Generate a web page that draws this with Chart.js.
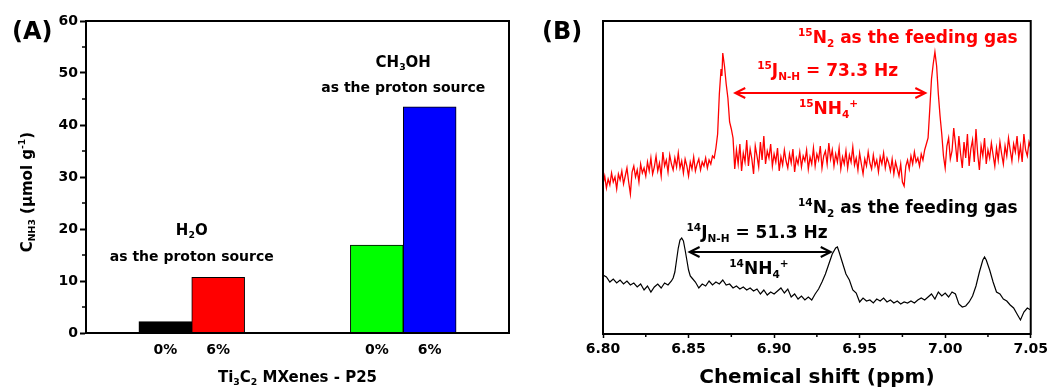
<!DOCTYPE html>
<html>
<head>
<meta charset="utf-8">
<title>NH3 yield and 1H NMR</title>
<script src="https://cdn.jsdelivr.net/npm/chart.js@4"></script>
<style>
  body { margin: 0; background: #fff; }
  #wrap { position: relative; width: 1051px; height: 390px; }
  #boxA { position: absolute; left: 0; top: 0; width: 525px; height: 390px; }
  #boxB { position: absolute; left: 525px; top: 0; width: 526px; height: 390px; }
</style>
</head>
<body>
<div id="wrap">
  <div id="boxA"><canvas id="chartA"></canvas></div>
  <div id="boxB"><canvas id="chartB"></canvas></div>
</div>
<script>
// ---- panel A : NH3 yield (umol/g) ----
const barLabels = ['', '0%', '6%', '', '', '0%', '6%', ''];
const barValues = [null, 2.2, 10.7, null, null, 16.9, 43.5, null];
const barColors = ['#000000', '#000000', '#ff0000', '#000000', '#000000', '#00ff00', '#0000ff', '#000000'];
const yTicksA = [0, 10, 20, 30, 40, 50, 60];

// ---- panel B : 1H NMR, chemical shift (ppm) vs intensity (a.u.) ----
const xTicksB = [6.80, 6.85, 6.90, 6.95, 7.00, 7.05];

// 15N2 feeding gas (red trace)
const shift15 = [6.800, 6.801, 6.802, 6.803, 6.804, 6.805, 6.806, 6.807, 6.808, 6.809,
  6.810, 6.811, 6.812, 6.813, 6.814, 6.815, 6.816, 6.817, 6.818, 6.819,
  6.820, 6.821, 6.822, 6.823, 6.824, 6.825, 6.826, 6.827, 6.828, 6.829,
  6.830, 6.831, 6.832, 6.833, 6.834, 6.835, 6.836, 6.837, 6.838, 6.839,
  6.840, 6.841, 6.842, 6.843, 6.844, 6.845, 6.846, 6.847, 6.848, 6.849,
  6.850, 6.851, 6.852, 6.853, 6.854, 6.855, 6.856, 6.857, 6.858, 6.859,
  6.860, 6.861, 6.862, 6.863, 6.864,
  6.865, 6.866, 6.867, 6.868, 6.869, 6.8695, 6.870, 6.871, 6.872, 6.873, 6.874, 6.875, 6.876, 6.877,
  6.878, 6.879, 6.880, 6.881, 6.882, 6.883, 6.884, 6.885, 6.886, 6.887,
  6.888, 6.889, 6.890, 6.891, 6.892, 6.893, 6.894, 6.895, 6.896, 6.897,
  6.898, 6.899, 6.900, 6.901, 6.902, 6.903, 6.904, 6.905, 6.906, 6.907,
  6.908, 6.909, 6.910, 6.911, 6.912, 6.913, 6.914, 6.915, 6.916, 6.917,
  6.918, 6.919, 6.920, 6.921, 6.922, 6.923, 6.924, 6.925, 6.926, 6.927,
  6.928, 6.929, 6.930, 6.931, 6.932, 6.933, 6.934, 6.935, 6.936, 6.937,
  6.938, 6.939, 6.940, 6.941, 6.942, 6.943, 6.944, 6.945, 6.946, 6.947,
  6.948, 6.949, 6.950, 6.951, 6.952, 6.953, 6.954, 6.955, 6.956, 6.957,
  6.958, 6.959, 6.960, 6.961, 6.962, 6.963, 6.964, 6.965, 6.966, 6.967,
  6.968, 6.969, 6.970, 6.971, 6.972, 6.973, 6.974, 6.975, 6.976, 6.977,
  6.978, 6.979, 6.980, 6.981, 6.982, 6.983, 6.984, 6.985, 6.986, 6.987,
  6.988, 6.989,
  6.990, 6.991, 6.992, 6.993, 6.994, 6.995, 6.996, 6.997, 6.998, 6.999, 7.000,
  7.001, 7.002, 7.003, 7.004, 7.005, 7.006, 7.007, 7.008, 7.009, 7.010,
  7.011, 7.012, 7.013, 7.014, 7.015, 7.016, 7.017, 7.018, 7.019, 7.020,
  7.021, 7.022, 7.023, 7.024, 7.025, 7.026, 7.027, 7.028, 7.029, 7.030,
  7.031, 7.032, 7.033, 7.034, 7.035, 7.036, 7.037, 7.038, 7.039, 7.040,
  7.041, 7.042, 7.043, 7.044, 7.045, 7.046, 7.047, 7.048, 7.049, 7.050];
const int15 = [150, 158, 146, 155, 149, 161, 152, 157, 145, 160,
  154, 163, 150, 158, 166, 152, 140, 162, 168, 157,
  164, 152, 170, 161, 166, 158, 172, 163, 176, 160,
  167, 178, 163, 171, 158, 182, 168, 174, 162, 179,
  170, 164, 176, 167, 181, 166, 173, 161, 175, 168,
  158, 172, 165, 177, 163, 170, 175, 164, 172, 168,
  176, 166, 174, 170, 178,
  176, 186, 200, 240, 265, 258, 281, 268, 250, 236, 212, 205, 196, 165,
  184, 170, 190, 163, 181, 172, 194, 168, 185, 175,
  160, 188, 178, 167, 192, 174, 198, 170, 183, 176,
  190, 168, 180, 172, 186, 163, 177, 169, 184, 173,
  166, 180, 171, 185, 162, 176, 170, 182, 167, 178,
  173, 184, 165, 177, 170, 186, 168, 180, 174, 188,
  166, 178, 183, 170, 191, 175, 184, 168, 180, 172,
  186, 165, 177, 170, 183, 166, 179, 172, 187, 169,
  176, 164, 181, 170, 160, 175, 168, 182, 171, 165,
  179, 168, 174, 162, 177, 170, 181, 166, 176, 171,
  163, 175, 160, 172, 165, 158, 170, 152, 148, 168,
  174, 165, 178, 170, 182, 172, 176, 168, 180, 174,
  184, 190,
  196, 225, 255, 270, 282, 268, 240, 218, 200, 178, 166,
  188, 196, 175, 183, 206, 190, 172, 198, 180, 166,
  192, 176, 200, 168, 185, 194, 172, 205, 180, 164,
  188, 178, 196, 170, 184, 176, 191, 179, 168, 186,
  174, 192, 180, 170, 188, 178, 196, 184, 173, 190,
  182, 198, 176, 188, 172, 200, 184, 178, 192, 186];

// 14N2 feeding gas (black trace)
const shift14 = [6.800, 6.802, 6.804, 6.806, 6.808, 6.810, 6.812, 6.814, 6.816, 6.818,
  6.820, 6.822, 6.824, 6.826, 6.828, 6.830, 6.832, 6.834, 6.836, 6.838,
  6.840, 6.841, 6.842, 6.843, 6.844, 6.845, 6.846, 6.847, 6.848, 6.849,
  6.850, 6.851, 6.852, 6.854, 6.856, 6.858, 6.860, 6.862, 6.864, 6.866,
  6.868, 6.870, 6.872, 6.874, 6.876, 6.878, 6.880, 6.882, 6.884, 6.886,
  6.888, 6.890, 6.892, 6.894, 6.896, 6.898, 6.900, 6.902, 6.904, 6.906,
  6.908, 6.910, 6.912, 6.914, 6.916, 6.918, 6.920, 6.922, 6.924, 6.926,
  6.928, 6.930, 6.932, 6.934, 6.936, 6.937, 6.938, 6.940, 6.942, 6.944,
  6.946, 6.948, 6.950, 6.952, 6.954, 6.956, 6.958, 6.960, 6.962, 6.964,
  6.966, 6.968, 6.970, 6.972, 6.974, 6.976, 6.978, 6.980, 6.982, 6.984,
  6.986, 6.988, 6.990, 6.992, 6.994, 6.996, 6.998, 7.000, 7.002, 7.004,
  7.006, 7.008, 7.010, 7.012, 7.014, 7.016, 7.018, 7.020, 7.022, 7.023,
  7.024, 7.026, 7.028, 7.030, 7.032, 7.034, 7.036, 7.038, 7.040, 7.042,
  7.044, 7.046, 7.048, 7.050];
const int14 = [59, 57, 52, 55, 51, 54, 50, 53, 49, 51,
  47, 50, 44, 48, 42, 47, 50, 46, 51, 49,
  53, 56, 62, 74, 86, 94, 96, 93, 84, 74,
  64, 58, 56, 52, 46, 50, 48, 53, 49, 52,
  50, 54, 49, 50, 46, 48, 45, 47, 44, 46,
  43, 45, 40, 44, 39, 42, 40, 43, 46, 41,
  45, 37, 40, 35, 38, 34, 37, 34, 40, 45,
  52, 60, 70, 80, 86, 87, 82, 71, 60, 54,
  44, 41, 32, 36, 33, 34, 31, 35, 33, 36,
  32, 34, 31, 33, 30, 32, 31, 33, 31, 34,
  36, 34, 37, 40, 35, 42, 38, 41, 37, 42,
  40, 30, 27, 28, 32, 38, 48, 62, 74, 77,
  74, 64, 52, 42, 40, 35, 33, 29, 26, 20,
  14, 22, 26, 24];

const FONT = "'DejaVu Sans', 'Liberation Sans', sans-serif";

// draws text made of normal / sub / sup pieces
function richText(ctx, parts, x, y, size, opt) {
  opt = opt || {};
  const k = 0.62;
  ctx.save();
  ctx.fillStyle = opt.color || '#000';
  ctx.textBaseline = 'middle';
  ctx.textAlign = 'left';
  let total = 0;
  const widths = parts.map(function (p) {
    ctx.font = 'bold ' + (p[1] === 'n' ? size : size * k) + 'px ' + FONT;
    const w = ctx.measureText(p[0]).width;
    total += w;
    return w;
  });
  ctx.translate(x, y);
  if (opt.rotate) ctx.rotate(opt.rotate);
  let cx = opt.align === 'center' ? -total / 2 : (opt.align === 'right' ? -total : 0);
  parts.forEach(function (p, i) {
    ctx.font = 'bold ' + (p[1] === 'n' ? size : size * k) + 'px ' + FONT;
    const dy = p[1] === 'sub' ? size * 0.32 : (p[1] === 'sup' ? -size * 0.36 : 0);
    ctx.fillText(p[0], cx, dy);
    cx += widths[i];
  });
  ctx.restore();
}

function arrowBoth(ctx, x1, x2, y, color) {
  ctx.save();
  ctx.strokeStyle = color;
  ctx.lineWidth = 2;
  ctx.beginPath();
  ctx.moveTo(x1, y); ctx.lineTo(x2, y);
  ctx.moveTo(x1 + 10, y - 5); ctx.lineTo(x1, y); ctx.lineTo(x1 + 10, y + 5);
  ctx.moveTo(x2 - 10, y - 5); ctx.lineTo(x2, y); ctx.lineTo(x2 - 10, y + 5);
  ctx.stroke();
  ctx.restore();
}

const framePlugin = {
  id: 'frame',
  afterDraw(chart) {
    const a = chart.chartArea, ctx = chart.ctx;
    ctx.save();
    ctx.strokeStyle = '#000';
    ctx.lineWidth = 2;
    ctx.strokeRect(a.left, a.top, a.right - a.left, a.bottom - a.top);
    ctx.restore();
  }
};

const annotA = {
  id: 'annotA',
  afterDraw(chart) {
    const ctx = chart.ctx, sx = chart.scales.x, sy = chart.scales.y, a = chart.chartArea;
    // minor ticks on y
    ctx.save();
    ctx.strokeStyle = '#000';
    ctx.lineWidth = 1.5;
    for (let v = 5; v < 60; v += 10) {
      const py = sy.getPixelForValue(v);
      ctx.beginPath(); ctx.moveTo(a.left - 4, py); ctx.lineTo(a.left, py); ctx.stroke();
    }
    ctx.restore();
    const mid1 = (sx.getPixelForValue(1) + sx.getPixelForValue(2)) / 2;
    const mid2 = (sx.getPixelForValue(5) + sx.getPixelForValue(6)) / 2;
    richText(ctx, [['H', 'n'], ['2', 'sub'], ['O', 'n']], mid1, sy.getPixelForValue(19.6), 15, {align: 'center'});
    richText(ctx, [['as the proton source', 'n']], mid1, sy.getPixelForValue(14.6), 14, {align: 'center'});
    richText(ctx, [['CH', 'n'], ['3', 'sub'], ['OH', 'n']], mid2, sy.getPixelForValue(51.9), 15, {align: 'center'});
    richText(ctx, [['as the proton source', 'n']], mid2, sy.getPixelForValue(47.1), 14, {align: 'center'});
    // axis titles and panel letter
    richText(ctx, [['C', 'n'], ['NH', 'sub'], ['3', 'sub'], [' (\u03bcmol g', 'n'], ['-1', 'sup'], [')', 'n']],
      28, 192, 15, {align: 'center', rotate: -Math.PI / 2});
    richText(ctx, [['Ti', 'n'], ['3', 'sub'], ['C', 'n'], ['2', 'sub'], [' MXenes - P25', 'n']],
      (a.left + a.right) / 2, 378, 15, {align: 'center'});
    richText(ctx, [['(A)', 'n']], 12, 33, 24);
  }
};

const annotB = {
  id: 'annotB',
  afterDraw(chart) {
    const ctx = chart.ctx, sx = chart.scales.x, sy = chart.scales.y, a = chart.chartArea;
    const X = function (v) { return sx.getPixelForValue(v); };
    const Y = function (v) { return sy.getPixelForValue(v); };
    // minor ticks on x
    ctx.save();
    ctx.strokeStyle = '#000';
    ctx.lineWidth = 1.5;
    [6.825, 6.875, 6.925, 6.975, 7.025].forEach(function (v) {
      const px = X(v);
      ctx.beginPath(); ctx.moveTo(px, a.bottom); ctx.lineTo(px, a.bottom + 3); ctx.stroke();
    });
    ctx.restore();
    const red = '#ff0000';
    richText(ctx, [['15', 'sup'], ['N', 'n'], ['2', 'sub'], [' as the feeding gas', 'n']], X(7.0424), Y(295), 17, {align: 'right', color: red});
    richText(ctx, [['15', 'sup'], ['J', 'n'], ['N-H', 'sub'], [' = 73.3 Hz', 'n']], X(6.8901), Y(262), 17, {color: red});
    arrowBoth(ctx, X(6.8773), X(6.9884), Y(241), red);
    richText(ctx, [['15', 'sup'], ['NH', 'n'], ['4', 'sub'], ['+', 'sup']], X(6.9145), Y(224), 17, {color: red});
    richText(ctx, [['14', 'sup'], ['N', 'n'], ['2', 'sub'], [' as the feeding gas', 'n']], X(7.0424), Y(125), 17, {align: 'right'});
    richText(ctx, [['14', 'sup'], ['J', 'n'], ['N-H', 'sub'], [' = 51.3 Hz', 'n']], X(6.8488), Y(100), 17);
    arrowBoth(ctx, X(6.8506), X(6.9331), Y(82), '#000');
    richText(ctx, [['14', 'sup'], ['NH', 'n'], ['4', 'sub'], ['+', 'sup']], X(6.8738), Y(64), 17);
    richText(ctx, [['Chemical shift (ppm)', 'n']], (a.left + a.right) / 2, 378, 20, {align: 'center'});
    richText(ctx, [['(B)', 'n']], 17, 33, 24);
  }
};

new Chart(document.getElementById('chartA'), {
  type: 'bar',
  data: {
    labels: barLabels,
    datasets: [{
      data: barValues,
      backgroundColor: barColors,
      borderColor: '#000',
      borderWidth: 1,
      categoryPercentage: 1,
      barPercentage: 1
    }]
  },
  options: {
    responsive: true,
    maintainAspectRatio: false,
    animation: false,
    layout: {padding: {top: 21, right: 16, left: 0, bottom: 0}},
    plugins: {legend: {display: false}, tooltip: {enabled: false}},
    scales: {
      x: {
        grid: {display: false, drawTicks: false},
        border: {color: '#000', width: 2},
        ticks: {color: '#000', font: {family: FONT, size: 14, weight: 'bold'}, padding: 9, autoSkip: false, maxRotation: 0},
        afterFit(s) { s.height = 57; }
      },
      y: {
        min: 0,
        max: 60,
        afterBuildTicks(s) { s.ticks = yTicksA.map(function (v) { return {value: v}; }); },
        ticks: {color: '#000', font: {family: FONT, size: 14, weight: 'bold'}, padding: 2},
        grid: {drawOnChartArea: false, tickLength: 6, tickColor: '#000', tickWidth: 2},
        border: {color: '#000', width: 2},
        afterFit(s) { s.width = 86; }
      }
    }
  },
  plugins: [framePlugin, annotA]
});

new Chart(document.getElementById('chartB'), {
  type: 'line',
  data: {
    datasets: [{
      label: '15N2',
      data: shift15.map(function (x, i) { return {x: x, y: int15[i]}; }),
      borderColor: '#ff0000',
      borderWidth: 1.3,
      pointRadius: 0,
      tension: 0
    }, {
      label: '14N2',
      data: shift14.map(function (x, i) { return {x: x, y: int14[i]}; }),
      borderColor: '#000000',
      borderWidth: 1.2,
      pointRadius: 0,
      tension: 0
    }]
  },
  options: {
    responsive: true,
    maintainAspectRatio: false,
    animation: false,
    layout: {padding: {top: 21, right: 19, left: 78, bottom: 0}},
    plugins: {legend: {display: false}, tooltip: {enabled: false}},
    scales: {
      x: {
        type: 'linear',
        min: 6.80,
        max: 7.05,
        afterBuildTicks(s) { s.ticks = xTicksB.map(function (v) { return {value: v}; }); },
        ticks: {color: '#000', font: {family: FONT, size: 14, weight: 'bold'}, padding: 3,
          callback: function (v) { return Number(v).toFixed(2); }},
        grid: {drawOnChartArea: false, tickLength: 4, tickColor: '#000', tickWidth: 1.5},
        border: {color: '#000', width: 2},
        afterFit(s) { s.height = 56; }
      },
      y: {display: false, min: 0, max: 313}
    }
  },
  plugins: [framePlugin, annotB]
});
</script>
</body>
</html>
